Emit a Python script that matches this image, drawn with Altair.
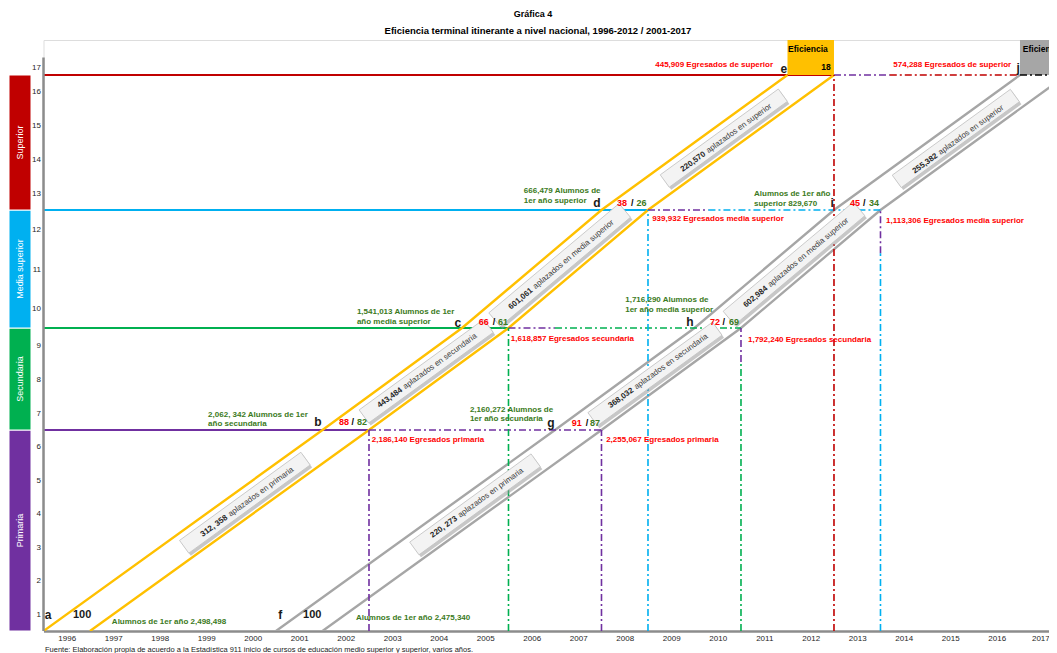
import altair as alt
import pandas as pd

FONT = "'Liberation Sans', Arial, sans-serif"

# ------------------------------------------------------------------ data
years = list(range(1996, 2018))
grades = list(range(1, 18))

level_names = ["Primaria", "Secundaria", "Media superior", "Superior"]
level_lo = [0.5, 6.5, 9.5, 12.5]
level_hi = [6.5, 9.5, 12.5, 16.5]

# cohort boundary lines (vertices: year, grade)
cohort_line = ["A1"] * 5 + ["A2"] * 5 + ["B1"] * 5 + ["B2"] * 5
cohort_group = ["1996-2012"] * 10 + ["2001-2017"] * 10
cohort_year = [1996, 2002, 2005, 2008, 2012,
               1997, 2003, 2006, 2009, 2013,
               2001, 2007, 2010, 2013, 2017,
               2002, 2008, 2011, 2014, 2018]
cohort_grade = [0.5, 6.5, 9.5, 12.5, 16.5] * 4

# solid "first-year entry" lines
entry_level = ["Primaria", "Secundaria", "Media superior", "Superior"]
entry_start = [1996, 1996, 1996, 1996]
entry_end = [2003, 2006, 2009, 2013]
entry_grade = [6.5, 9.5, 12.5, 16.5]

# dash-dot graduate lines
dd_year1 = [2003, 2006, 2007, 2009, 2010.3, 2013, 2014.2, 2017,
            2003, 2006, 2008, 2009, 2011, 2011, 2013, 2014, 2014]
dd_year2 = [2008, 2007, 2011, 2010.3, 2014, 2014.2, 2017, 2017.8,
            2003, 2006, 2008, 2009, 2011, 2011, 2013, 2014, 2014]
dd_grade1 = [6.5, 9.5, 9.5, 12.5, 12.5, 16.5, 16.5, 16.5,
             0.5, 0.5, 0.5, 0.5, 8.5, 0.5, 0.5, 11.4, 0.5]
dd_grade2 = [6.5, 9.5, 9.5, 12.5, 12.5, 16.5, 16.5, 16.5,
             6.5, 9.5, 6.5, 12.5, 9.5, 8.5, 16.5, 12.5, 11.4]
dd_level = ["Primaria", "Primaria", "Secundaria", "Primaria", "Media superior",
            "Primaria", "Superior", "Fin",
            "Primaria", "Secundaria", "Primaria", "Media superior", "Primaria",
            "Secundaria", "Superior", "Primaria", "Media superior"]

# efficiency boxes
eff_group = ["1996-2012", "2001-2017"]
eff_start = [2012, 2017]
eff_end = [2013, 2018.5]
eff_lo = [16.5, 16.5]
eff_hi = [18.69, 18.69]

# annotations
ann_text = [
    "Alumnos de 1er año 2,498,498", "Alumnos de 1er año 2,475,340",
    "2,062, 342 Alumnos de 1er", "año secundaria",
    "2,160,272 Alumnos de", "1er año  secundaria",
    "1,541,013 Alumnos de 1er", "año media superior",
    "1,716,290 Alumnos de", "1er año media superior",
    "666,479 Alumnos de", "1er año superior",
    "Alumnos de 1er año", "superior  829,670",
    "2,186,140 Egresados primaria", "2,255,067 Egresados primaria",
    "1,618,857 Egresados secundaria", "1,792,240 Egresados secundaria",
    "939,932 Egresados media superior", "1,113,306 Egresados media superior",
    "445,909 Egresados de superior", "574,288 Egresados de superior",
    "a", "100", "f", "100", "b", "c", "d", "e", "g", "h", "i", "j",
    "88", "/", "82", "66", "/", "61", "38", "/", "26",
    "91", "/", "87", "72", "/", "69", "45", "/", "34",
    "Eficiencia", "18", "Eficiencia",
]
ann_year = [
    1997.47, 2002.72,
    1999.54, 1999.54, 2005.17, 2005.17, 2002.74, 2002.74,
    2008.51, 2008.51, 2006.33, 2006.33, 2011.28, 2011.28,
    2003.06, 2008.10, 2006.05, 2011.15, 2009.09, 2014.12,
    2011.69, 2016.81,
    1996.10, 1996.83, 2001.09, 2001.78, 2001.90, 2004.91, 2007.90, 2011.92,
    2006.91, 2009.90, 2012.96, 2016.96,
    2002.46, 2002.65, 2002.85, 2005.47, 2005.69, 2005.88, 2008.44, 2008.66, 2008.86,
    2007.47, 2007.69, 2007.86, 2010.44, 2010.63, 2010.85, 2013.45, 2013.65, 2013.86,
    2012.44, 2012.83, 2017.06,
]
ann_grade = [
    0.77, 0.89,
    6.94, 6.68, 7.09, 6.82, 9.91, 9.65,
    10.21, 9.96, 13.06, 12.77, 12.97, 12.68,
    6.20, 6.20, 9.18, 9.15, 12.27, 12.22,
    17.13, 17.13,
    0.98, 0.98, 0.98, 0.98, 6.74, 9.63, 12.71, 16.875,
    6.71, 9.65, 12.71, 16.94,
    6.74, 6.74, 6.74, 9.65, 9.65, 9.65, 12.71, 12.71, 12.71,
    6.71, 6.71, 6.71, 9.65, 9.65, 9.65, 12.71, 12.71, 12.71,
    18.125, 17.0, 18.125,
]
ann_kind = (["alumnos"] * 14 + ["egresados"] * 6 + ["egresados_r"] * 2
            + ["letter", "hundred", "letter", "hundred"] + ["letter"] * 8
            + ["rate_red", "slash", "rate_green"] * 6
            + ["eff", "eff", "eff_cut"])

# postponed-students labels along the cohort bands
box_number = ["312, 358", "443,484", "601,061", "220,570",
              "220, 273", "368,032", "602,984", "255,382"]
box_rest = ["aplazados en primaria", "aplazados en secundaria",
            "aplazados en media superior", "aplazados en superior"] * 2
box_level = ["Primaria", "Secundaria", "Media superior", "Superior"] * 2
box_year = [2000.33, 2004.23, 2007.10, 2010.63, 2005.28, 2009.15, 2012.14, 2015.62]
box_grade = [4.33, 8.23, 11.10, 14.63, 4.28, 8.15, 11.14, 14.62]
split_year = [1999.97, 2003.73, 2006.53, 2010.25, 2004.91, 2008.70, 2011.58, 2015.24]
split_grade = [3.93, 7.72, 10.50, 14.20, 3.90, 7.71, 10.55, 14.15]

title_text = "Gráfica 4"
subtitle_text = "Eficiencia terminal itinerante a nivel nacional, 1996-2012 / 2001-2017"
source_text = ("Fuente: Elaboración propia de acuerdo a la Estadística 911 inicio de cursos "
               "de educación medio superior y superior, varios años.")

# ------------------------------------------------------------------ styles
LEVEL_COLOR = {"Primaria": "#7030a0", "Secundaria": "#00b050",
               "Media superior": "#00b0f0", "Superior": "#c00000", "Fin": "#000000"}
COHORT_COLOR = {"1996-2012": "#ffc000", "2001-2017": "#a6a6a6"}
LEVEL_ANGLE = {"Primaria": 324, "Secundaria": 324, "Media superior": 320, "Superior": 324}
TXT_GREEN = "#3b7a22"
TXT_RED = "#ff0000"

XS = alt.Scale(domain=[1996, 2017.624], nice=False, zero=False)
YS = alt.Scale(type="linear", domain=[0.5, 6.5, 9.5, 12.5, 16.5, 17, 18.69],
               range=[591, 390, 288, 170, 35, 27, 0], nice=False, zero=False)
XA = alt.Axis(values=[y + 0.5 for y in years], labelExpr="floor(datum.value)",
              title=None, grid=False, ticks=False, domainColor="#8c8c8c", domainWidth=2.5,
              labelFontSize=8, labelColor="#262626", labelPadding=3, labelFont=FONT,
              labelFlush=8, labelFlushOffset=6, labelOverlap=False)
YA = alt.Axis(values=grades, title=None, grid=False, ticks=False, domain=False,
              labelFontSize=8, labelColor="#262626", labelPadding=3, labelFont=FONT)


def X(f):
    return alt.X(f, type="quantitative", scale=XS, axis=XA)


def Y(f):
    return alt.Y(f, type="quantitative", scale=YS, axis=YA)


# ------------------------------------------------------------------ tables
levels_df = pd.DataFrame({"level": level_names, "lo": level_lo, "hi": level_hi})
levels_df["mid"] = (levels_df["lo"] + levels_df["hi"]) / 2
levels_df["col"] = levels_df["level"].map(LEVEL_COLOR)

cohort_df = pd.DataFrame({"line": cohort_line, "group": cohort_group,
                          "year": cohort_year, "grade": cohort_grade})
cohort_df["col"] = cohort_df["group"].map(COHORT_COLOR)

entry_df = pd.DataFrame({"level": entry_level, "y1": entry_start, "y2": entry_end,
                         "g": entry_grade})
entry_df["col"] = entry_df["level"].map(LEVEL_COLOR)

dd_df = pd.DataFrame({"y1": dd_year1, "y2": dd_year2, "g1": dd_grade1, "g2": dd_grade2,
                      "level": dd_level})
dd_df["col"] = dd_df["level"].map(LEVEL_COLOR)

eff_df = pd.DataFrame({"group": eff_group, "y1": eff_start, "y2": eff_end,
                       "g1": eff_lo, "g2": eff_hi})
eff_df["col"] = eff_df["group"].map(COHORT_COLOR)

ann_df = pd.DataFrame({"text": ann_text, "year": ann_year, "grade": ann_grade,
                       "kind": ann_kind})

box_df = pd.DataFrame({"num": box_number, "rest": box_rest, "level": box_level,
                       "year": box_year, "grade": box_grade,
                       "sy": split_year, "sg": split_grade})
box_df["ang"] = box_df["level"].map(LEVEL_ANGLE)
box_df["len"] = (box_df["num"].str.len() + box_df["rest"].str.len() + 1) * 4.0 + 30
box_df["size"] = box_df["len"] ** 2

# ------------------------------------------------------------------ layers
side_bars = alt.Chart(levels_df).mark_rect(stroke="white", strokeWidth=1).encode(
    x=alt.value(-34.5), x2=alt.value(-12.5),
    y=Y("lo"), y2="hi", color=alt.Color("col:N", scale=None))
side_text = alt.Chart(levels_df).mark_text(
    angle=270, color="white", fontSize=9, font=FONT, baseline="middle"
).encode(x=alt.value(-23.5), y=Y("mid"), text="level:N")

y_axis_line = alt.Chart(pd.DataFrame({"year": [1996], "g1": [0.5], "g2": [17.6]})).mark_rule(
    color="#8c8c8c", strokeWidth=2.5).encode(x=X("year"), y=Y("g1"), y2="g2")

entry_lines = alt.Chart(entry_df).mark_rule(strokeWidth=2).encode(
    x=X("y1"), x2="y2", y=Y("g"), color=alt.Color("col:N", scale=None))

dd_lines = alt.Chart(dd_df).mark_rule(strokeWidth=1.6, strokeDash=[7, 3, 2, 3], clip=True).encode(
    x=X("y1"), x2="y2", y=Y("g1"), y2="g2", color=alt.Color("col:N", scale=None))

cohort_lines = alt.Chart(cohort_df).mark_line(strokeWidth=2.4, clip=True).encode(
    x=X("year"), y=Y("grade"), detail="line:N", color=alt.Color("col:N", scale=None),
    order="grade:Q")

eff_boxes = alt.Chart(eff_df).mark_rect(clip=True).encode(
    x=X("y1"), x2="y2", y=Y("g1"), y2="g2", color=alt.Color("col:N", scale=None))

BOX_PATH = "M-1,-0.105L1,-0.105L1,0.105L-1,0.105Z"
box_shadow = alt.Chart(box_df).mark_point(
    shape=BOX_PATH, filled=True, color="#8f8f8f", opacity=0.5, xOffset=2, yOffset=2.5
).encode(x=X("year"), y=Y("grade"), angle=alt.Angle("ang:Q", scale=None),
         size=alt.Size("size:Q", scale=None))
box_face = alt.Chart(box_df).mark_point(
    shape=BOX_PATH, filled=True, color="#f3f3f3", stroke="#c4c4c4", strokeWidth=0.8, opacity=1
).encode(x=X("year"), y=Y("grade"), angle=alt.Angle("ang:Q", scale=None),
         size=alt.Size("size:Q", scale=None))
box_num_text = alt.Chart(box_df).mark_text(
    align="right", baseline="middle", dx=-1.5, fontSize=8, fontWeight="bold",
    font=FONT, color="#262626"
).encode(x=X("sy"), y=Y("sg"), angle=alt.Angle("ang:Q", scale=None), text="num:N")
box_rest_text = alt.Chart(box_df).mark_text(
    align="left", baseline="middle", dx=1.5, fontSize=8, font=FONT, color="#404040"
).encode(x=X("sy"), y=Y("sg"), angle=alt.Angle("ang:Q", scale=None), text="rest:N")

KIND_STYLE = {
    "alumnos": dict(color=TXT_GREEN, align="left", fontSize=8),
    "egresados": dict(color=TXT_RED, align="left", fontSize=8),
    "egresados_r": dict(color=TXT_RED, align="right", fontSize=8),
    "letter": dict(color="#1a1a1a", align="center", fontSize=12),
    "hundred": dict(color="#1a1a1a", align="center", fontSize=11),
    "rate_red": dict(color=TXT_RED, align="center", fontSize=9),
    "slash": dict(color="#000000", align="center", fontSize=9),
    "rate_green": dict(color=TXT_GREEN, align="center", fontSize=9),
    "eff": dict(color="#000000", align="center", fontSize=8.5),
    "eff_cut": dict(color="#000000", align="left", fontSize=8.5, clip=True),
}
text_layers = []
for kind, style in KIND_STYLE.items():
    sub = ann_df[ann_df["kind"] == kind]
    text_layers.append(
        alt.Chart(sub).mark_text(baseline="middle", fontWeight="bold", font=FONT, **style)
        .encode(x=X("year"), y=Y("grade"), text="text:N"))

title_layer = alt.Chart(pd.DataFrame({"t": [title_text]})).mark_text(
    fontSize=9, fontWeight="bold", font=FONT, color="#000000", baseline="middle"
).encode(x=alt.value(489.5), y=alt.value(-26), text="t:N")
subtitle_layer = alt.Chart(pd.DataFrame({"t": [subtitle_text]})).mark_text(
    fontSize=9.5, fontWeight="bold", font=FONT, color="#000000", baseline="middle"
).encode(x=alt.value(494.5), y=alt.value(-9), text="t:N")
source_layer = alt.Chart(pd.DataFrame({"t": [source_text]})).mark_text(
    fontSize=7.5, font=FONT, color="#1a1a1a", align="left", baseline="middle"
).encode(x=alt.value(1.5), y=alt.value(610), text="t:N")

chart = alt.layer(
    entry_lines, eff_boxes, cohort_lines, dd_lines, y_axis_line,
    box_shadow, box_face, box_num_text, box_rest_text,
    *text_layers, side_bars, side_text, title_layer, subtitle_layer, source_layer,
).properties(
    width=1005.5, height=591,
    autosize=alt.AutoSizeParams(type="none"),
    padding={"left": 35.5, "top": 32, "right": 0, "bottom": 22},
).configure_view(stroke=None).configure(background="white")

chart.save("out.html", embed_options={"renderer": "svg", "actions": False})
